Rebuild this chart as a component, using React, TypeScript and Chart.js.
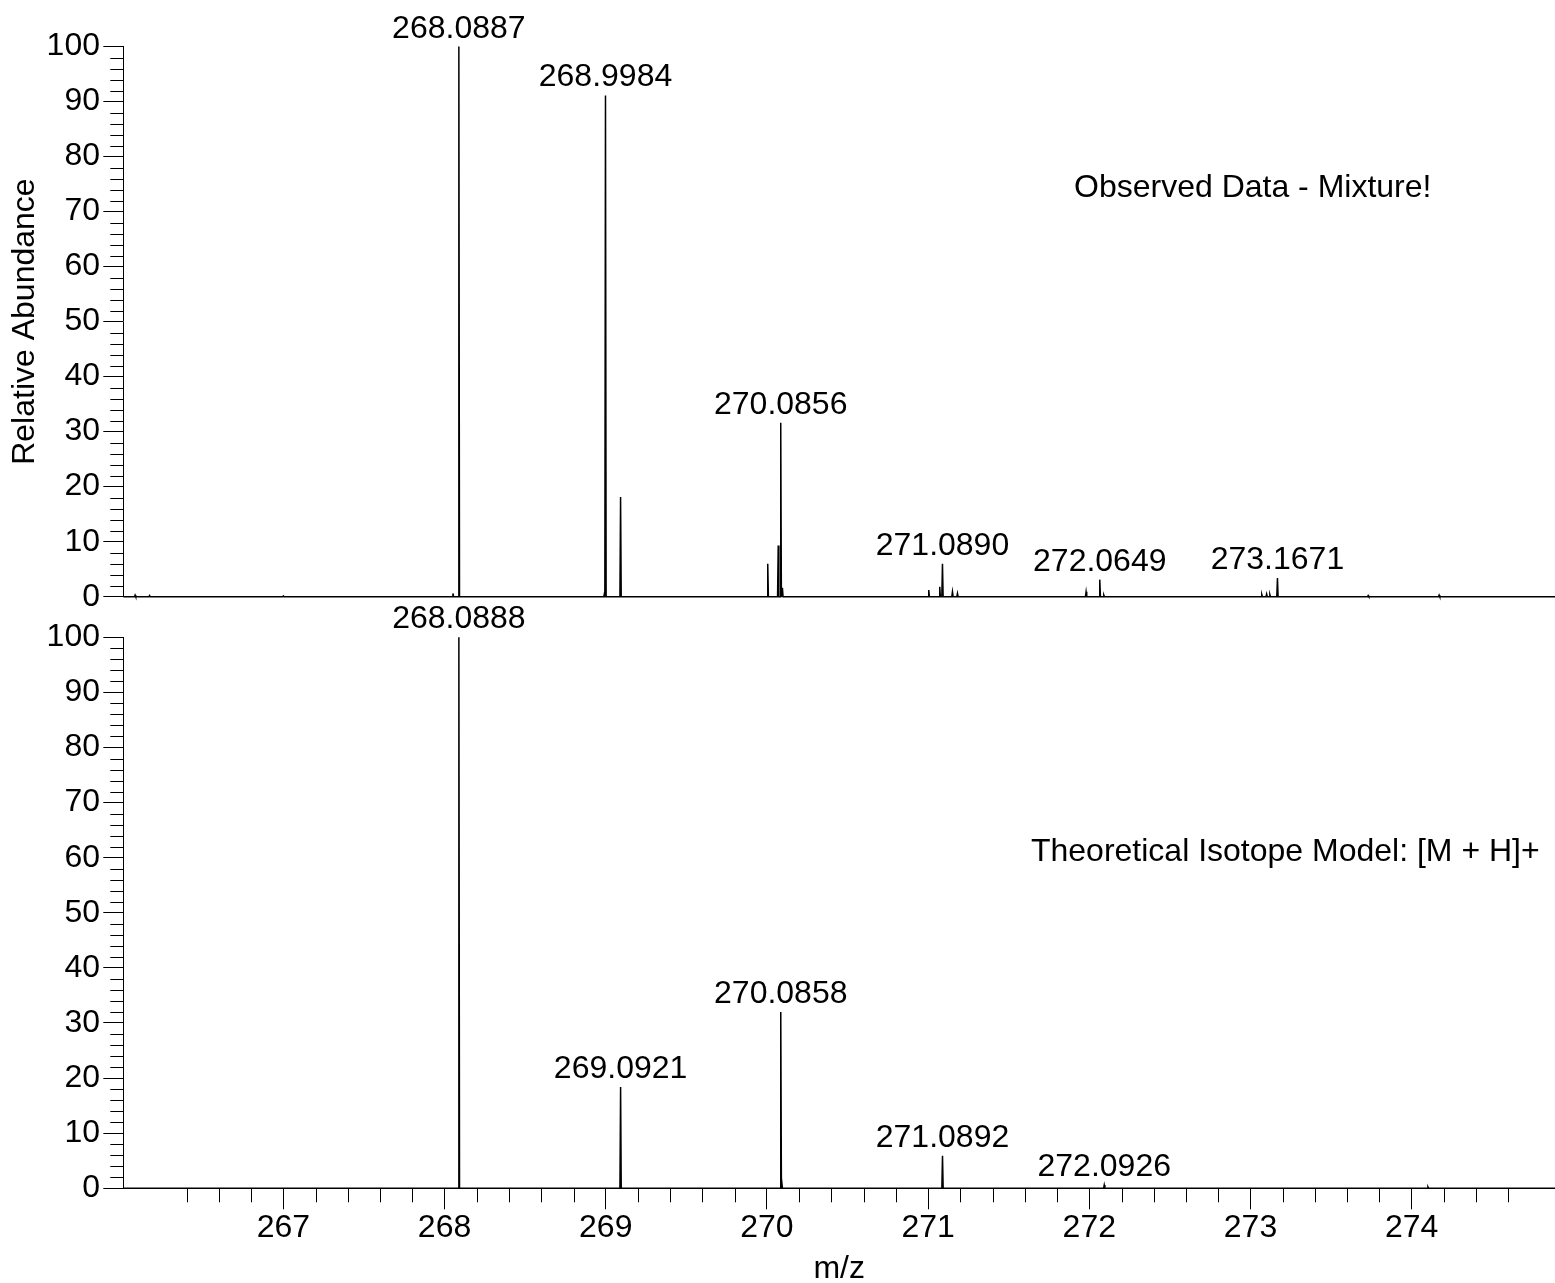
import React, { useEffect, useRef } from "react";
import { Chart, registerables } from "chart.js";

Chart.register(...registerables);

const FONT_FAMILY = '"Liberation Sans", Arial, Helvetica, sans-serif';
const FONT_SIZE = 32;

// m/z axis range
const X_MIN = 266.007;
const X_MAX = 274.889;

// Observed spectrum (top panel)
const observedMz = [
  266.08, 266.17, 267.0, 268.052, 268.0887, 268.992, 268.9984, 269.092,
  270.005, 270.07, 270.0856, 270.096, 271.004, 271.072, 271.089, 271.151,
  271.182, 271.98, 272.0649, 272.09, 273.07, 273.1, 273.12, 273.1671,
  273.73, 274.17,
];
const observedAbundance = [
  0.3, 0.2, 0.15, 0.6, 100, 0.6, 91.1, 18.1,
  6.0, 9.3, 31.6, 1.6, 1.2, 1.8, 6.0, 0.9,
  0.6, 0.9, 3.1, 0.3, 0.4, 0.5, 0.4, 3.4,
  0.2, 0.3,
];
const observedLabels = [268.0887, 268.9984, 270.0856, 271.089, 272.0649, 273.1671];

// Theoretical isotope model (bottom panel)
const theoreticalMz = [268.0888, 269.0921, 270.0858, 270.092, 271.0892, 272.0926, 274.101];
const theoreticalAbundance = [100, 18.4, 32.0, 1.7, 5.9, 0.6, 0.25];
const theoreticalLabels = [268.0888, 269.0921, 270.0858, 271.0892, 272.0926];

// Panel captions, anchored in data units [m/z, abundance]
const observedCaption = "Observed Data - Mixture!";
const observedCaptionAt = [271.905, 72.6];
const theoreticalCaption = "Theoretical Isotope Model: [M + H]+";
const theoreticalCaptionAt = [271.638, 59.4];

const Y_TITLE = "Relative Abundance";
const X_TITLE = "m/z";

const PEAK_HALF_WIDTH = 0.004;

function sticks(mzs: number[], ints: number[]) {
  const order = mzs.map((_, i) => i).sort((a, b) => mzs[a] - mzs[b]);
  const pts: { x: number; y: number }[] = [{ x: X_MIN, y: 0 }];
  order.forEach((i) => {
    pts.push({ x: mzs[i] - PEAK_HALF_WIDTH, y: 0 });
    pts.push({ x: mzs[i], y: ints[i] });
    pts.push({ x: mzs[i] + PEAK_HALF_WIDTH, y: 0 });
  });
  pts.push({ x: X_MAX, y: 0 });
  return pts;
}

function makeDecor(cfg: {
  mz: number[];
  ints: number[];
  labels: number[];
  caption: string;
  captionAt: number[];
  xMinor: boolean;
}) {
  return {
    id: "spectrumDecor",
    afterDraw(chart: any) {
      const { ctx } = chart;
      const xs = chart.scales.x;
      const ys = chart.scales.y;
      ctx.save();
      ctx.strokeStyle = "#000";
      ctx.lineWidth = 1;
      ctx.beginPath();
      ys.ticks.forEach((t: any) => {
        if (Math.abs(t.value % 10) > 1e-6) {
          const py = Math.round(ys.getPixelForValue(t.value)) + 0.5;
          ctx.moveTo(ys.right - 13, py);
          ctx.lineTo(ys.right, py);
        }
      });
      if (cfg.xMinor) {
        xs.ticks.forEach((t: any) => {
          if (Math.abs(t.value - Math.round(t.value)) > 1e-6) {
            const px = Math.round(xs.getPixelForValue(t.value)) + 0.5;
            ctx.moveTo(px, xs.top);
            ctx.lineTo(px, xs.top + 14);
          }
        });
      }
      ctx.stroke();

      ctx.fillStyle = "#000";
      ctx.font = `${FONT_SIZE}px ${FONT_FAMILY}`;
      ctx.textAlign = "center";
      ctx.textBaseline = "alphabetic";
      cfg.labels.forEach((m) => {
        const i = cfg.mz.indexOf(m);
        if (i < 0) return;
        const px = xs.getPixelForValue(m);
        const py = ys.getPixelForValue(cfg.ints[i]) - 9;
        ctx.fillText(m.toFixed(4), px, py);
      });
      ctx.textAlign = "left";
      ctx.fillText(
        cfg.caption,
        xs.getPixelForValue(cfg.captionAt[0]),
        ys.getPixelForValue(cfg.captionAt[1])
      );
      ctx.restore();
    },
  };
}

function isInt(v: number) {
  return Math.abs(v - Math.round(v)) < 1e-6;
}

function makeConfig(bottom: boolean, canvasH: number, plotTop: number, plotBottom: number) {
  const mz = bottom ? theoreticalMz : observedMz;
  const ints = bottom ? theoreticalAbundance : observedAbundance;
  const xAxisHeight = canvasH - plotBottom;
  return {
    type: "line" as const,
    data: {
      datasets: [
        {
          data: sticks(mz, ints),
          borderColor: "#000",
          borderWidth: 1.5,
          pointRadius: 0,
          tension: 0,
          fill: false,
          clip: 4,
        },
      ],
    },
    options: {
      responsive: false,
      animation: false as const,
      events: [],
      layout: { padding: { top: plotTop, left: 0, right: 0, bottom: 0 } },
      plugins: {
        legend: { display: false },
        tooltip: { enabled: false },
        title: { display: false },
      },
      scales: {
        x: {
          type: "linear" as const,
          min: X_MIN,
          max: X_MAX,
          afterBuildTicks: (scale: any) => {
            scale.ticks = scale.ticks.filter(
              (t: any) => Math.abs(t.value * 5 - Math.round(t.value * 5)) < 1e-6
            );
          },
          afterFit: (scale: any) => {
            scale.height = xAxisHeight;
          },
          ticks: {
            display: bottom,
            stepSize: 0.2,
            autoSkip: false,
            maxRotation: 0,
            padding: 0,
            color: "#000",
            font: { family: FONT_FAMILY, size: FONT_SIZE },
            callback: (v: any) => (isInt(Number(v)) ? String(Math.round(Number(v))) : ""),
          },
          grid: {
            display: bottom,
            drawOnChartArea: false,
            drawTicks: true,
            tickLength: 21,
            tickWidth: 1,
            tickColor: (c: any) =>
              c.tick && isInt(c.tick.value) ? "#000" : "rgba(0,0,0,0)",
          },
          border: { display: true, color: "#000", width: 1 },
          title: {
            display: bottom,
            text: X_TITLE,
            color: "#000",
            font: { family: FONT_FAMILY, size: FONT_SIZE },
            padding: { top: 0, bottom: -5.2 },
          },
        },
        y: {
          type: "linear" as const,
          min: 0,
          max: 100,
          afterFit: (scale: any) => {
            scale.width = 123.3;
          },
          ticks: {
            stepSize: 2,
            autoSkip: false,
            padding: 3.3,
            color: "#000",
            font: { family: FONT_FAMILY, size: FONT_SIZE },
            callback: (v: any) => (Number(v) % 10 === 0 ? String(v) : ""),
          },
          grid: {
            display: true,
            drawOnChartArea: false,
            drawTicks: true,
            tickLength: 20,
            tickWidth: 1,
            tickColor: (c: any) =>
              c.tick && c.tick.value % 10 === 0 ? "#000" : "rgba(0,0,0,0)",
          },
          border: { display: true, color: "#000", width: 1 },
          title: {
            display: !bottom,
            text: Y_TITLE,
            color: "#000",
            font: { family: FONT_FAMILY, size: FONT_SIZE },
            padding: { top: 5.8, bottom: 0 },
          },
        },
      },
    },
    plugins: [
      makeDecor({
        mz,
        ints,
        labels: bottom ? theoreticalLabels : observedLabels,
        caption: bottom ? theoreticalCaption : observedCaption,
        captionAt: bottom ? theoreticalCaptionAt : observedCaptionAt,
        xMinor: bottom,
      }),
    ],
  };
}

const TOP_CANVAS_H = 620;
const BOTTOM_CANVAS_TOP = 598;
const BOTTOM_CANVAS_H = 1283 - BOTTOM_CANVAS_TOP;

export default function App() {
  const topRef = useRef<HTMLCanvasElement | null>(null);
  const botRef = useRef<HTMLCanvasElement | null>(null);

  useEffect(() => {
    Chart.defaults.font.family = FONT_FAMILY;
    const c1 = new Chart(topRef.current as HTMLCanvasElement, makeConfig(false, TOP_CANVAS_H, 46.5, 596.7) as any);
    const c2 = new Chart(
      botRef.current as HTMLCanvasElement,
      makeConfig(true, BOTTOM_CANVAS_H, 637.3 - BOTTOM_CANVAS_TOP, 1188.3 - BOTTOM_CANVAS_TOP) as any
    );
    return () => {
      c1.destroy();
      c2.destroy();
    };
  }, []);

  return (
    <div
      style={{
        position: "absolute",
        left: 0,
        top: 0,
        width: 1555,
        height: 1283,
        overflow: "hidden",
        background: "#fff",
      }}
    >
      <canvas
        ref={botRef}
        width={1555}
        height={BOTTOM_CANVAS_H}
        style={{ position: "absolute", left: 0, top: BOTTOM_CANVAS_TOP, display: "block" }}
      />
      <canvas
        ref={topRef}
        width={1555}
        height={TOP_CANVAS_H}
        style={{ position: "absolute", left: 0, top: 0, display: "block" }}
      />
    </div>
  );
}
